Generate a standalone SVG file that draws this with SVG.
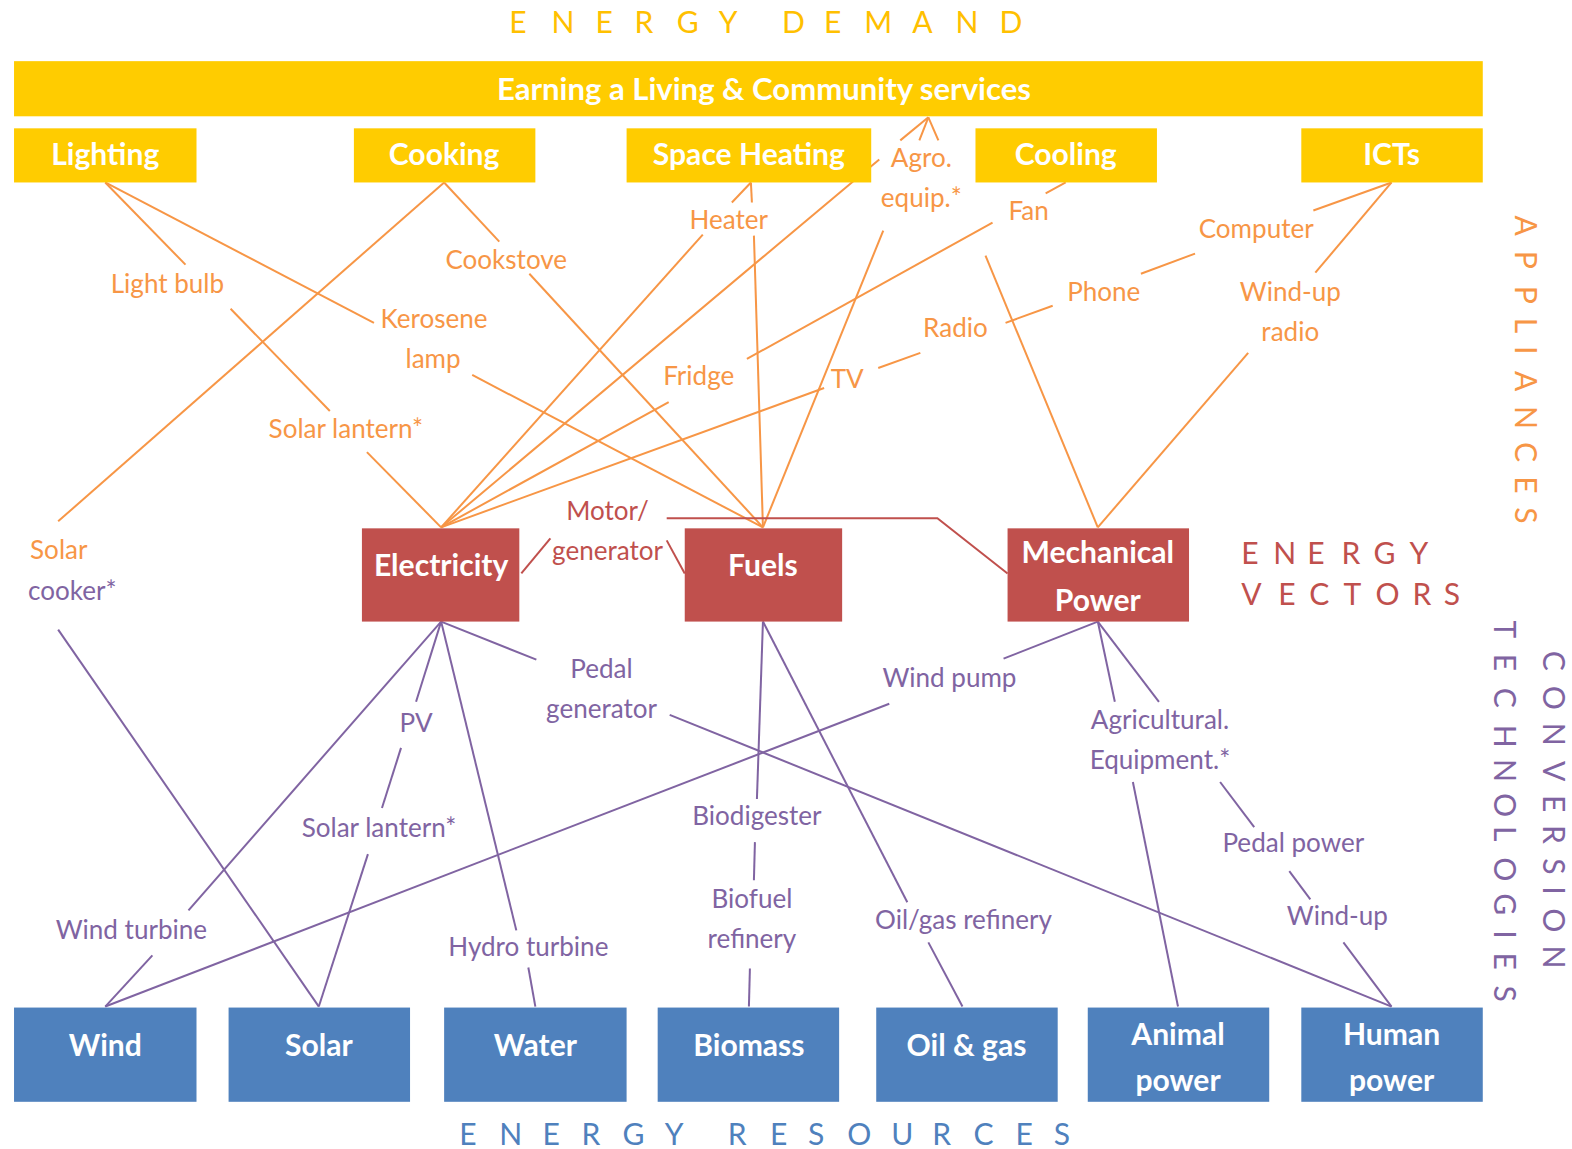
<svg xmlns="http://www.w3.org/2000/svg" width="1572" height="1149" viewBox="0 0 1572 1149">
<style>
.ln{fill:none;stroke-width:2;stroke-linecap:butt}
.lo{stroke:#F79646}
.lp{stroke:#8064A2}
.lr{stroke:#C0504D}
text{font-family:Lato,"Open Sans","Liberation Sans",sans-serif}
.bt{fill:#FFFFFF;font-weight:bold;font-size:30px;text-anchor:middle}
.to{fill:#F79646;font-size:26px;text-anchor:middle}
.tp{fill:#8064A2;font-size:26px;text-anchor:middle}
.tr{fill:#C0504D;font-size:26px;text-anchor:middle}
.hd{font-size:30px;font-weight:normal;white-space:pre}
.yb{fill:#FFCC00}
.rb{fill:#C0504D}
.bb{fill:#4F81BD}
</style>
<rect width="1572" height="1149" fill="#FFFFFF"/>
<g transform="scale(1.00255)">
<g id="connectors">
<!-- orange: appliances -->
<g class="ln lo">
<line x1="105" y1="182" x2="185" y2="264"/><line x1="230" y1="308" x2="329" y2="410"/><line x1="366" y1="451" x2="440" y2="526"/>
<line x1="105" y1="182" x2="373" y2="322"/><line x1="471" y1="374" x2="761" y2="526"/>
<line x1="443" y1="182" x2="58" y2="520"/>
<line x1="443" y1="182" x2="498" y2="241"/><line x1="528" y1="273" x2="761" y2="526"/>
<line x1="440" y1="526" x2="701" y2="234"/><line x1="730" y1="202" x2="749" y2="182"/>
<line x1="761" y1="526" x2="752" y2="235"/><line x1="750" y1="202" x2="749" y2="182"/>
<line x1="440" y1="526" x2="877" y2="159"/><line x1="898" y1="140" x2="926" y2="117"/>
<line x1="761" y1="526" x2="881" y2="230"/><line x1="917" y1="140" x2="926" y2="117"/>
<line x1="1095" y1="526" x2="983" y2="255"/><line x1="936" y1="140" x2="926" y2="117"/>
<line x1="440" y1="526" x2="667" y2="401"/><line x1="745" y1="358" x2="990" y2="222"/><line x1="1043" y1="193" x2="1063" y2="182"/>
<line x1="440" y1="526" x2="822" y2="387"/><line x1="876" y1="367" x2="918" y2="352"/><line x1="1003" y1="322" x2="1050" y2="305"/><line x1="1138" y1="273" x2="1192" y2="253"/><line x1="1310" y1="210" x2="1388" y2="182"/>
<line x1="1095" y1="526" x2="1245" y2="352"/><line x1="1312" y1="272" x2="1388" y2="182"/>
</g>
<!-- red: motor / generator -->
<g class="ln lr">
<line x1="520" y1="572" x2="549" y2="537"/>
<line x1="665" y1="539" x2="683" y2="572"/>
<polyline points="665,517 935,517 1005,572"/>
</g>
<!-- purple: conversion technologies -->
<g class="ln lp">
<line x1="58" y1="628" x2="318" y2="1004"/>
<line x1="440" y1="620" x2="188" y2="908"/><line x1="152" y1="953" x2="105" y2="1004"/>
<line x1="440" y1="620" x2="415" y2="700"/><line x1="400" y1="746" x2="381" y2="806"/><line x1="367" y1="852" x2="318" y2="1004"/>
<line x1="440" y1="620" x2="515" y2="928"/><line x1="527" y1="965" x2="534" y2="1004"/>
<line x1="440" y1="620" x2="535" y2="658"/><line x1="668" y1="713" x2="1388" y2="1004"/>
<line x1="761" y1="620" x2="755" y2="797"/><line x1="753" y1="840" x2="752" y2="878"/><line x1="748" y1="966" x2="747" y2="1004"/>
<line x1="761" y1="620" x2="905" y2="900"/><line x1="926" y1="940" x2="960" y2="1004"/>
<line x1="1095" y1="620" x2="1001" y2="657"/><line x1="887" y1="702" x2="105" y2="1004"/>
<line x1="1095" y1="620" x2="1112" y2="700"/><line x1="1130" y1="780" x2="1175" y2="1004"/>
<line x1="1095" y1="620" x2="1156" y2="700"/><line x1="1217" y1="780" x2="1251" y2="825"/><line x1="1286" y1="869" x2="1307" y2="897"/><line x1="1340" y1="940" x2="1388" y2="1004"/>
</g>
</g>

<!-- headings -->
<text class="hd" fill="#FFC000" y="33" x="508 530 550 572 594 614 633 655 675 697 717 748 780 802 822 843 862 887 910 932 953 975 997">E N E R G Y D E M A N D</text>
<text class="hd" fill="#4F81BD" y="1142" x="458 478 498 520 541 560 580 600 621 642 663 695 726 747 768 787 806 826 845 867 889 910 930 951 971 992 1013 1032 1051">E N E R G Y R E S O U R C E S</text>
<text class="hd" fill="#C0504D" y="563" x="1238 1254 1270 1287 1304 1321 1338 1354 1370 1388 1406">E N E R G Y</text>
<text class="hd" fill="#C0504D" y="603" x="1238 1257 1275 1291 1306 1323 1340 1356 1372 1390 1409 1425 1440">V E C T O R S</text>
<text class="hd" fill="#F79646" transform="translate(1511,0) rotate(90)" y="0" x="215 233 250 268 285 301 317 331 345 358 370 388 405 423 441 458 475 491 506">A P P L I A N C E S</text>
<text class="hd" fill="#8064A2" transform="translate(1539,0) rotate(90)" y="0" x="649 667 684 703 721 740 759 776 793 808 823 840 856 870 884 895 906 925 943">C O N V E R S I O N</text>
<text class="hd" fill="#8064A2" transform="translate(1490,0) rotate(90)" y="0" x="619 636 652 669 686 705 723 740 757 774 791 808 824 840 855 873 891 910 928 939 950 967 983">T E C H N O L O G I E S</text>

<!-- energy demand -->
<g id="banner"><rect class="yb" x="14" y="61" width="1465" height="55"/><text class="bt" x="762" y="100" style="font-size:31px">Earning a Living &amp; Community services</text></g>
<g id="lighting"><rect class="yb" x="14" y="128" width="182" height="54"/><text class="bt" x="105" y="165">Lighting</text></g>
<g id="cooking"><rect class="yb" x="353" y="128" width="181" height="54"/><text class="bt" x="443" y="165">Cooking</text></g>
<g id="space-heating"><rect class="yb" x="625" y="128" width="244" height="54"/><text class="bt" x="747" y="165">Space Heating</text></g>
<g id="cooling"><rect class="yb" x="973" y="128" width="181" height="54"/><text class="bt" x="1063" y="165">Cooling</text></g>
<g id="icts"><rect class="yb" x="1298" y="128" width="181" height="54"/><text class="bt" x="1388" y="165">ICTs</text></g>

<!-- appliances -->
<g id="agro-equip"><text class="to" x="919" y="167">Agro.</text><text class="to" x="919" y="206">equip.*</text></g>
<g id="heater"><text class="to" x="727" y="228">Heater</text></g>
<g id="fan"><text class="to" x="1026" y="219">Fan</text></g>
<g id="computer"><text class="to" x="1253" y="237">Computer</text></g>
<g id="light-bulb"><text class="to" x="167" y="292">Light bulb</text></g>
<g id="cookstove"><text class="to" x="505" y="268">Cookstove</text></g>
<g id="kerosene-lamp"><text class="to" x="433" y="327">Kerosene</text><text class="to" x="432" y="367">lamp</text></g>
<g id="phone"><text class="to" x="1101" y="300">Phone</text></g>
<g id="windup-radio"><text class="to" x="1287" y="300">Wind-up</text><text class="to" x="1287" y="340">radio</text></g>
<g id="radio"><text class="to" x="953" y="336">Radio</text></g>
<g id="fridge"><text class="to" x="697" y="384">Fridge</text></g>
<g id="tv"><text class="to" x="845" y="387">TV</text></g>
<g id="solar-lantern-a"><text class="to" x="345" y="437">Solar lantern*</text></g>
<g id="solar-cooker"><text class="to" x="30" y="558" style="text-anchor:start">Solar</text><text class="tp" x="28" y="598" style="text-anchor:start">cooker*</text></g>

<!-- energy vectors -->
<g id="electricity"><rect class="rb" x="361" y="527" width="157" height="93"/><text class="bt" x="440" y="575">Electricity</text></g>
<g id="fuels"><rect class="rb" x="683" y="527" width="157" height="93"/><text class="bt" x="761" y="575">Fuels</text></g>
<g id="mechanical-power"><rect class="rb" x="1005" y="527" width="181" height="93"/><text class="bt" x="1095" y="562">Mechanical</text><text class="bt" x="1095" y="609">Power</text></g>
<g id="motor-generator"><text class="tr" x="606" y="519">Motor/</text><text class="tr" x="606" y="559">generator</text></g>

<!-- conversion technologies -->
<g id="pedal-generator"><text class="tp" x="600" y="676">Pedal</text><text class="tp" x="600" y="716">generator</text></g>
<g id="wind-pump"><text class="tp" x="947" y="685">Wind pump</text></g>
<g id="pv"><text class="tp" x="415" y="730">PV</text></g>
<g id="agri-equipment"><text class="tp" x="1157" y="727">Agricultural.</text><text class="tp" x="1157" y="767">Equipment.*</text></g>
<g id="biodigester"><text class="tp" x="755" y="823">Biodigester</text></g>
<g id="solar-lantern-b"><text class="tp" x="378" y="835">Solar lantern*</text></g>
<g id="pedal-power"><text class="tp" x="1290" y="850">Pedal power</text></g>
<g id="biofuel-refinery"><text class="tp" x="750" y="906">Biofuel</text><text class="tp" x="750" y="946">refinery</text></g>
<g id="oilgas-refinery"><text class="tp" x="961" y="927">Oil/gas refinery</text></g>
<g id="wind-turbine"><text class="tp" x="131" y="937">Wind turbine</text></g>
<g id="windup"><text class="tp" x="1334" y="923">Wind-up</text></g>
<g id="hydro-turbine"><text class="tp" x="527" y="954">Hydro turbine</text></g>

<!-- energy resources -->
<g id="wind"><rect class="bb" x="14" y="1005" width="182" height="94"/><text class="bt" x="105" y="1053">Wind</text></g>
<g id="solar"><rect class="bb" x="228" y="1005" width="181" height="94"/><text class="bt" x="318" y="1053">Solar</text></g>
<g id="water"><rect class="bb" x="443" y="1005" width="182" height="94"/><text class="bt" x="534" y="1053">Water</text></g>
<g id="biomass"><rect class="bb" x="656" y="1005" width="181" height="94"/><text class="bt" x="747" y="1053">Biomass</text></g>
<g id="oil-gas"><rect class="bb" x="874" y="1005" width="181" height="94"/><text class="bt" x="964" y="1053">Oil &amp; gas</text></g>
<g id="animal-power"><rect class="bb" x="1085" y="1005" width="181" height="94"/><text class="bt" x="1175" y="1042">Animal</text><text class="bt" x="1175" y="1088">power</text></g>
<g id="human-power"><rect class="bb" x="1298" y="1005" width="181" height="94"/><text class="bt" x="1388" y="1042">Human</text><text class="bt" x="1388" y="1088">power</text></g>
</g>
</svg>
